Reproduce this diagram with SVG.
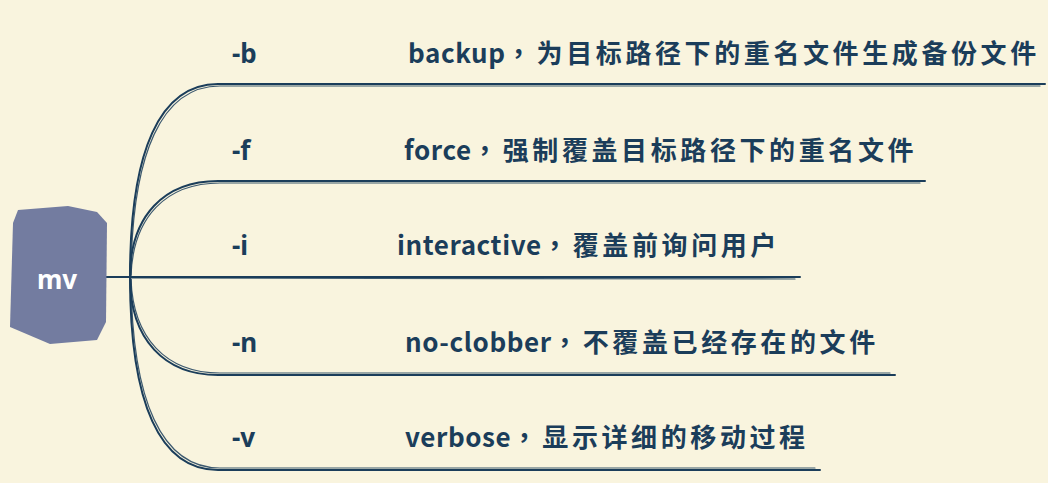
<svg xmlns="http://www.w3.org/2000/svg" width="1048" height="483" viewBox="0 0 1048 483">
<style>
.c{fill:none;stroke:#1b3d5a;stroke-width:2;stroke-linecap:round}
.c2{fill:none;stroke:#1b3d5a;stroke-width:1.2;stroke-linecap:round;opacity:.85}
.t{font-family:"Noto Sans CJK SC","Noto Sans",sans-serif;font-weight:700;font-size:26px;fill:#1b3d5a;letter-spacing:3.6px}
.t .l{letter-spacing:0.6px}
.t .p{font-family:"Noto Sans CJK TC",sans-serif;letter-spacing:5px}
.k{font-family:"Noto Sans","Noto Sans CJK SC",sans-serif;font-weight:700;font-size:26px;fill:#1b3d5a}
</style>
<rect width="1048" height="483" fill="#f9f4de"/>
<g id="connectors">
<path class="c" d="M106,277 L130,277"/>
<path class="c" d="M130,277 C130,150 160,84 218,84 L1045,84"/>
<path class="c2" d="M131,275 C132,152 162,86 220,86 L1040,86"/>
<path class="c" d="M130,277 C130,215 165,181 218,181 L925,181"/>
<path class="c2" d="M131,276 C133,217 166,183 220,183 L920,183"/>
<path class="c" d="M130,277 L800,277"/>
<path class="c2" d="M132,278 L795,279"/>
<path class="c" d="M130,277 C130,340 165,375 218,375 L895,375"/>
<path class="c2" d="M131,279 C133,338 166,373 220,373 L890,373"/>
<path class="c" d="M130,277 C130,404 160,470 218,470 L820,470"/>
<path class="c2" d="M131,279 C132,402 162,468 220,468 L815,468"/>
</g>
<g id="mv">
<polygon points="18,210 68,206 97,212 107,223 106,322 97,340 50,344 10,327 13,223" fill="#737ca0"/>
<text x="57" y="289" text-anchor="middle" font-family="Noto Sans, sans-serif" font-weight="700" font-size="26" fill="#ffffff">mv</text>
</g>
<g id="b">
<text class="k" x="232" y="63">-b</text>
<text class="t" x="408" y="63"><tspan class="l">backup</tspan><tspan class="p">，</tspan>为目标路径下的重名文件生成备份文件</text>
</g>
<g id="f">
<text class="k" x="232" y="160">-f</text>
<text class="t" x="404" y="160"><tspan class="l">force</tspan><tspan class="p">，</tspan>强制覆盖目标路径下的重名文件</text>
</g>
<g id="i">
<text class="k" x="232" y="255">-i</text>
<text class="t" x="397" y="255"><tspan class="l">interactive</tspan><tspan class="p">，</tspan>覆盖前询问用户</text>
</g>
<g id="n">
<text class="k" x="232" y="352">-n</text>
<text class="t" x="405" y="352"><tspan class="l">no-clobber</tspan><tspan class="p">，</tspan>不覆盖已经存在的文件</text>
</g>
<g id="v">
<text class="k" x="232" y="447">-v</text>
<text class="t" x="405" y="447"><tspan class="l">verbose</tspan><tspan class="p">，</tspan>显示详细的移动过程</text>
</g>
</svg>
